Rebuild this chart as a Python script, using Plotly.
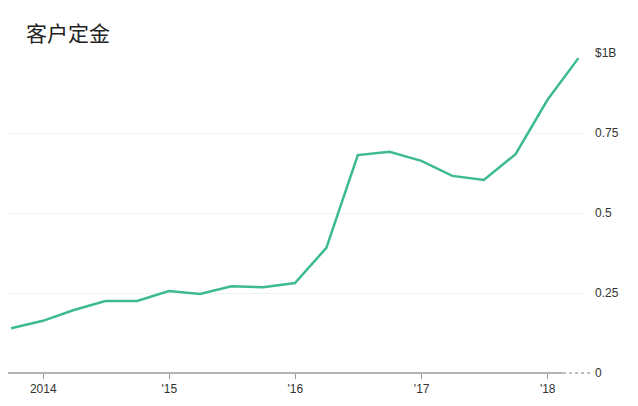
import plotly.graph_objects as go

dates = ["2013-09-30", "2013-12-31", "2014-03-31", "2014-06-30", "2014-09-30", "2014-12-31",
         "2015-03-31", "2015-06-30", "2015-09-30", "2015-12-31", "2016-03-31", "2016-06-30",
         "2016-09-30", "2016-12-31", "2017-03-31", "2017-06-30", "2017-09-30", "2017-12-31",
         "2018-03-31"]
deposits = [0.14, 0.163, 0.197, 0.225, 0.225, 0.256, 0.247, 0.271, 0.268, 0.281, 0.391, 0.681,
            0.691, 0.663, 0.616, 0.603, 0.684, 0.853, 0.984]

x_tick_vals = ["2014-01-01", "2015-01-01", "2016-01-01", "2017-01-01", "2018-01-01"]
x_tick_text = ["2014", "'15", "'16", "'17", "'18"]
y_tick_vals = [0, 0.25, 0.5, 0.75, 1.0]
y_tick_text = ["0", "0.25", "0.5", "0.75", "$1B"]

fig = go.Figure()
fig.add_trace(go.Scatter(x=dates, y=deposits, mode="lines",
                         line=dict(color="#3dbb8c", width=2.5), hoverinfo="skip"))

# page has an 8px body margin; figure is sized so it fits in the 638x406 window
W, H = 630, 398
left, right, top, bottom = 0, 577, 45, 365

fig.update_layout(
    width=W, height=H,
    margin=dict(l=left, r=W - right, t=top, b=H - bottom, pad=0),
    paper_bgcolor="white", plot_bgcolor="white",
    showlegend=False,
    font=dict(family="Liberation Sans, Arial, sans-serif", size=12, color="#333333"),
    xaxis=dict(type="date", range=["2013-09-21", "2018-04-19"],
               tickvals=x_tick_vals, ticktext=x_tick_text,
               showgrid=False, zeroline=False, showline=False,
               ticks="outside", ticklen=5, tickcolor="#999999", tickwidth=1,
               tickfont=dict(size=12, color="#333333"), fixedrange=True),
    yaxis=dict(range=[0, 1.0], side="right", tickvals=y_tick_vals, ticktext=y_tick_text,
               showgrid=True, gridcolor="#f1f1f1", gridwidth=1, zeroline=False,
               showline=False, ticks="", ticklabelstandoff=9,
               tickfont=dict(size=12, color="#333333"), fixedrange=True),
    annotations=[dict(text="客户定金", xref="paper", yref="paper", x=0, y=1.0,
                      xanchor="left", yanchor="middle", xshift=16, yshift=21, showarrow=False,
                      font=dict(family="Noto Sans CJK SC", size=21, color="#222222"))],
    shapes=[
        dict(type="line", xref="paper", yref="paper", x0=0, x1=0.962, y0=0, y1=0,
             line=dict(color="#9a9a9a", width=1.5)),
        dict(type="line", xref="paper", yref="paper", x0=0.962, x1=1.010, y0=0, y1=0,
             line=dict(color="#aaaaaa", width=1.5, dash="dot")),
    ],
)

fig.write_html("out.html")
